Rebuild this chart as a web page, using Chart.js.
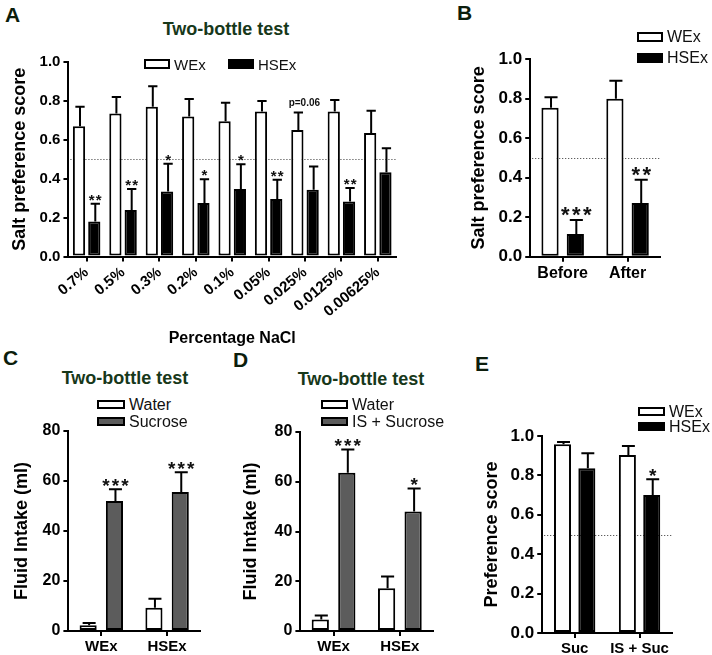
<!DOCTYPE html>
<html>
<head>
<meta charset="utf-8">
<title>Two-bottle test</title>
<script src="https://cdn.jsdelivr.net/npm/chart.js@4.4.1/dist/chart.umd.min.js"></script>
<style>
  html, body { margin: 0; padding: 0; background: #fff; }
  body { position: relative; width: 712px; height: 655px; overflow: hidden; font-family: "Liberation Sans", Arial, sans-serif; }
  canvas { position: absolute; }
  .letter { position: absolute; font-size: 21px; font-weight: bold; line-height: 21px; color: #0c1d0c; }
  .title { position: absolute; font-size: 18px; font-weight: bold; line-height: 18px; color: #17381a; white-space: nowrap; transform: translate(-50%, -50%); }
  .leg { position: absolute; display: flex; align-items: center; white-space: nowrap; color: #111; }
  .leg .box { box-sizing: border-box; border: 2px solid #000; margin-right: 4px; flex: none; }
</style>
</head>
<body>
<div class="letter" style="left:5px;top:4px">A</div>
<div class="letter" style="left:457px;top:2px">B</div>
<div class="letter" style="left:3px;top:347px">C</div>
<div class="letter" style="left:233px;top:349px">D</div>
<div class="letter" style="left:475px;top:353px">E</div>
<div class="title" style="left:226px;top:29px">Two-bottle test</div>
<div class="title" style="left:125px;top:378px">Two-bottle test</div>
<div class="title" style="left:361px;top:379px">Two-bottle test</div>

<canvas id="chartA" width="420" height="360"></canvas>
<canvas id="chartB" width="220" height="300"></canvas>
<canvas id="chartC" width="220" height="260"></canvas>
<canvas id="chartD" width="220" height="260"></canvas>
<canvas id="chartE" width="220" height="260"></canvas>

<script>
const FONT = '"Liberation Sans", Arial, sans-serif';

// A: salt preference across NaCl concentrations
const nacl = ['0.7%', '0.5%', '0.3%', '0.2%', '0.1%', '0.05%', '0.025%', '0.0125%', '0.00625%'];
const naclWEx = [0.67, 0.735, 0.77, 0.72, 0.695, 0.745, 0.65, 0.745, 0.635];
const naclWExSem = [0.10, 0.085, 0.105, 0.09, 0.095, 0.055, 0.09, 0.06, 0.115];
const naclWExSig = ['', '', '', '', '', '', 'p=0.06', '', ''];
const naclHSEx = [0.18, 0.24, 0.335, 0.275, 0.347, 0.296, 0.344, 0.283, 0.433];
const naclHSExSem = [0.092, 0.107, 0.142, 0.123, 0.128, 0.099, 0.119, 0.069, 0.124];
const naclHSExSig = ['**', '**', '*', '*', '*', '**', '', '**', ''];

// B: before / after
const periods = ['Before', 'After'];
const periodWEx = [0.753, 0.799];
const periodWExSem = [0.054, 0.091];
const periodHSEx = [0.115, 0.272];
const periodHSExSem = [0.071, 0.117];
const periodHSExSig = ['***', '**'];

// C: water vs sucrose intake
const groups = ['WEx', 'HSEx'];
const sucWater = [2.3, 9.3];
const sucWaterSem = [0.9, 3.6];
const sucSucrose = [52, 55.6];
const sucSucroseSem = [4.7, 7.9];
const sucSucroseSig = ['***', '***'];

// D: water vs IS + sucrose intake
const isWater = [4.6, 17.2];
const isWaterSem = [1.6, 4.7];
const isSucrose = [63.6, 48];
const isSucroseSem = [9.4, 9.3];
const isSucroseSig = ['***', '*'];

// E: preference score
const prefLabels = ['Suc', 'IS + Suc'];
const prefWEx = [0.958, 0.903];
const prefWExSem = [0.011, 0.046];
const prefHSEx = [0.836, 0.70];
const prefHSExSem = [0.076, 0.08];
const prefHSExSig = ['', '*'];

const scoreTicks = [0, 0.2, 0.4, 0.6, 0.8, 1.0];
const intakeTicks = [0, 20, 40, 60, 80];

function drawMark(ctx, mark, x, capY, o) {
  ctx.fillStyle = '#111';
  ctx.textAlign = 'center';
  ctx.textBaseline = 'alphabetic';
  if (/^\*+$/.test(mark)) {
    ctx.font = `bold ${o.starSize}px ${FONT}`;
    const m = ctx.measureText('*');
    const y = capY - o.starGap - m.actualBoundingBoxDescent;
    const n = mark.length;
    for (let k = 0; k < n; k++) ctx.fillText('*', x + (k - (n - 1) / 2) * o.starStep, y);
  } else {
    ctx.font = `bold 10px ${FONT}`;
    ctx.fillText(mark, x + 6, capY - 7);
  }
}

const barExtras = {
  id: 'barExtras',
  beforeDatasetsDraw(chart, args, opts) {
    if (opts.refLine == null) return;
    const { ctx, chartArea } = chart;
    const y = Math.round(chart.scales.y.getPixelForValue(opts.refLine)) + 0.5;
    ctx.save();
    ctx.strokeStyle = '#333';
    ctx.lineWidth = 1;
    ctx.setLineDash([1, 2]);
    ctx.beginPath();
    ctx.moveTo(chartArea.left + 2, y);
    ctx.lineTo(chartArea.right, y);
    ctx.stroke();
    ctx.restore();
  },
  afterDatasetsDraw(chart, args, opts) {
    const { ctx } = chart;
    const yScale = chart.scales.y;
    chart.data.datasets.forEach((ds, di) => {
      const meta = chart.getDatasetMeta(di);
      meta.data.forEach((bar, i) => {
        const top = yScale.getPixelForValue(ds.data[i] + ds.sem[i]);
        const cx = bar.x + 1;
        const half = bar.width * 0.38;
        ctx.save();
        ctx.strokeStyle = '#000';
        ctx.lineWidth = 2;
        ctx.beginPath();
        ctx.moveTo(cx, bar.y);
        ctx.lineTo(cx, top);
        ctx.moveTo(cx - half, top);
        ctx.lineTo(cx + half, top);
        ctx.stroke();
        const mark = ds.sig[i];
        if (mark) drawMark(ctx, mark, cx, top, opts);
        ctx.restore();
      });
    });
  }
};

function yAxis(ticks, title, tickSize, decimals, titlePad) {
  return {
    min: ticks[0],
    max: ticks[ticks.length - 1],
    afterBuildTicks: (scale) => { scale.ticks = ticks.map((v) => ({ value: v })); },
    border: { display: true, color: '#000', width: 2 },
    grid: { display: true, drawOnChartArea: false, drawTicks: true, tickLength: 5, color: '#000', lineWidth: 2 },
    ticks: { color: '#000', padding: 3, font: { family: FONT, weight: 'bold', size: tickSize }, callback: (v) => Number(v).toFixed(decimals) },
    title: { display: true, text: title, color: '#000', font: { family: FONT, weight: 'bold', size: 18 }, padding: { top: 0, bottom: titlePad } }
  };
}

function xAxis(tickSize, rotation, title) {
  return {
    border: { display: true, color: '#000', width: 2 },
    grid: { display: true, drawOnChartArea: false, offset: false, drawTicks: true, tickLength: 5, color: '#000', lineWidth: 2 },
    ticks: { color: '#000', padding: 2, autoSkip: false, minRotation: rotation, maxRotation: rotation, font: { family: FONT, weight: 'bold', size: tickSize } },
    title: title
      ? { display: true, text: title, color: '#000', font: { family: FONT, weight: 'bold', size: 16 }, padding: { top: 6, bottom: 0 } }
      : { display: false }
  };
}

// move/resize the canvas so the plot area sits where the figure has it
function fit(chart, canvas, area) {
  let ca = chart.chartArea;
  const w = chart.width + (area.right - area.left) - (ca.right - ca.left);
  const h = chart.height + (area.bottom - area.top) - (ca.bottom - ca.top);
  chart.resize(Math.round(w), Math.round(h));
  ca = chart.chartArea;
  canvas.style.left = (area.left - ca.left) + 'px';
  canvas.style.top = (area.top - ca.top) + 'px';
}

function addLegend(chart, leg) {
  chart.data.datasets.forEach((ds, i) => {
    const spot = leg.spots[i];
    const row = document.createElement('div');
    row.className = 'leg';
    row.style.left = spot.x + 'px';
    row.style.top = spot.y + 'px';
    row.style.height = leg.boxH + 'px';
    row.style.fontSize = leg.fontSize + 'px';
    const box = document.createElement('span');
    box.className = 'box';
    box.style.width = leg.boxW + 'px';
    box.style.height = leg.boxH + 'px';
    box.style.background = ds.backgroundColor;
    const txt = document.createElement('span');
    txt.textContent = ds.label;
    row.appendChild(box);
    row.appendChild(txt);
    document.body.appendChild(row);
  });
}

function makePanel(id, cfg) {
  const canvas = document.getElementById(id);
  const chart = new Chart(canvas, {
    type: 'bar',
    data: {
      labels: cfg.labels,
      datasets: cfg.series.map((s) => ({
        label: s.label,
        data: s.data,
        sem: s.sem,
        sig: s.sig || [],
        backgroundColor: s.color,
        borderColor: '#000',
        borderWidth: 2,
        borderSkipped: false,
        barPercentage: cfg.barPct,
        categoryPercentage: cfg.catPct
      }))
    },
    options: {
      responsive: false,
      maintainAspectRatio: false,
      animation: false,
      layout: { padding: { top: 14, right: 6, left: 0, bottom: 2 } },
      plugins: {
        legend: { display: false },
        tooltip: { enabled: false },
        barExtras: cfg.extras
      },
      scales: { x: cfg.x, y: cfg.y }
    },
    plugins: [barExtras]
  });
  fit(chart, canvas, cfg.area);
  addLegend(chart, cfg.legend);
  return chart;
}

makePanel('chartA', {
  labels: nacl,
  series: [
    { label: 'WEx', data: naclWEx, sem: naclWExSem, sig: naclWExSig, color: '#ffffff' },
    { label: 'HSEx', data: naclHSEx, sem: naclHSExSem, sig: naclHSExSig, color: '#000000' }
  ],
  barPct: 0.8, catPct: 0.84,
  x: xAxis(15, 40, 'Percentage NaCl'),
  y: yAxis(scoreTicks, 'Salt preference score', 15, 1, 6),
  extras: { refLine: 0.5, starSize: 15, starStep: 7, starGap: 3 },
  area: { left: 68, right: 396, top: 62, bottom: 257 },
  legend: { spots: [{ x: 144, y: 59 }, { x: 228, y: 59 }], boxW: 26, boxH: 10, fontSize: 15 }
});

makePanel('chartB', {
  labels: periods,
  series: [
    { label: 'WEx', data: periodWEx, sem: periodWExSem, color: '#ffffff' },
    { label: 'HSEx', data: periodHSEx, sem: periodHSExSem, sig: periodHSExSig, color: '#000000' }
  ],
  barPct: 0.68, catPct: 0.78,
  x: xAxis(16, 0),
  y: yAxis(scoreTicks, 'Salt preference score', 17, 1, 6),
  extras: { refLine: 0.5, starSize: 22, starStep: 11, starGap: 4 },
  area: { left: 530, right: 660, top: 59, bottom: 257 },
  legend: { spots: [{ x: 637, y: 32 }, { x: 637, y: 53 }], boxW: 26, boxH: 10, fontSize: 16 }
});

makePanel('chartC', {
  labels: groups,
  series: [
    { label: 'Water', data: sucWater, sem: sucWaterSem, color: '#ffffff' },
    { label: 'Sucrose', data: sucSucrose, sem: sucSucroseSem, sig: sucSucroseSig, color: '#5c5c5c' }
  ],
  barPct: 0.65, catPct: 0.8,
  x: xAxis(15, 0),
  y: yAxis(intakeTicks, 'Fluid Intake (ml)', 16, 0, 7),
  extras: { starSize: 19, starStep: 9.5, starGap: 3 },
  area: { left: 68, right: 200, top: 431, bottom: 631 },
  legend: { spots: [{ x: 97, y: 400 }, { x: 97, y: 417 }], boxW: 28, boxH: 9, fontSize: 16 }
});

makePanel('chartD', {
  labels: groups,
  series: [
    { label: 'Water', data: isWater, sem: isWaterSem, color: '#ffffff' },
    { label: 'IS + Sucrose', data: isSucrose, sem: isSucroseSem, sig: isSucroseSig, color: '#5c5c5c' }
  ],
  barPct: 0.65, catPct: 0.8,
  x: xAxis(15, 0),
  y: yAxis(intakeTicks, 'Fluid Intake (ml)', 16, 0, 10),
  extras: { starSize: 19, starStep: 9.5, starGap: 3 },
  area: { left: 300, right: 433, top: 432, bottom: 631 },
  legend: { spots: [{ x: 321, y: 400 }, { x: 321, y: 417 }], boxW: 27, boxH: 9, fontSize: 16 }
});

makePanel('chartE', {
  labels: prefLabels,
  series: [
    { label: 'WEx', data: prefWEx, sem: prefWExSem, color: '#ffffff' },
    { label: 'HSEx', data: prefHSEx, sem: prefHSExSem, sig: prefHSExSig, color: '#000000' }
  ],
  barPct: 0.7, catPct: 0.75,
  x: xAxis(15, 0),
  y: yAxis(scoreTicks, 'Preference score', 17, 1, 5),
  extras: { refLine: 0.5, starSize: 19, starStep: 10, starGap: 3 },
  area: { left: 542, right: 672, top: 436, bottom: 633 },
  legend: { spots: [{ x: 638, y: 407 }, { x: 638, y: 422 }], boxW: 27, boxH: 9, fontSize: 16 }
});
</script>
</body>
</html>
